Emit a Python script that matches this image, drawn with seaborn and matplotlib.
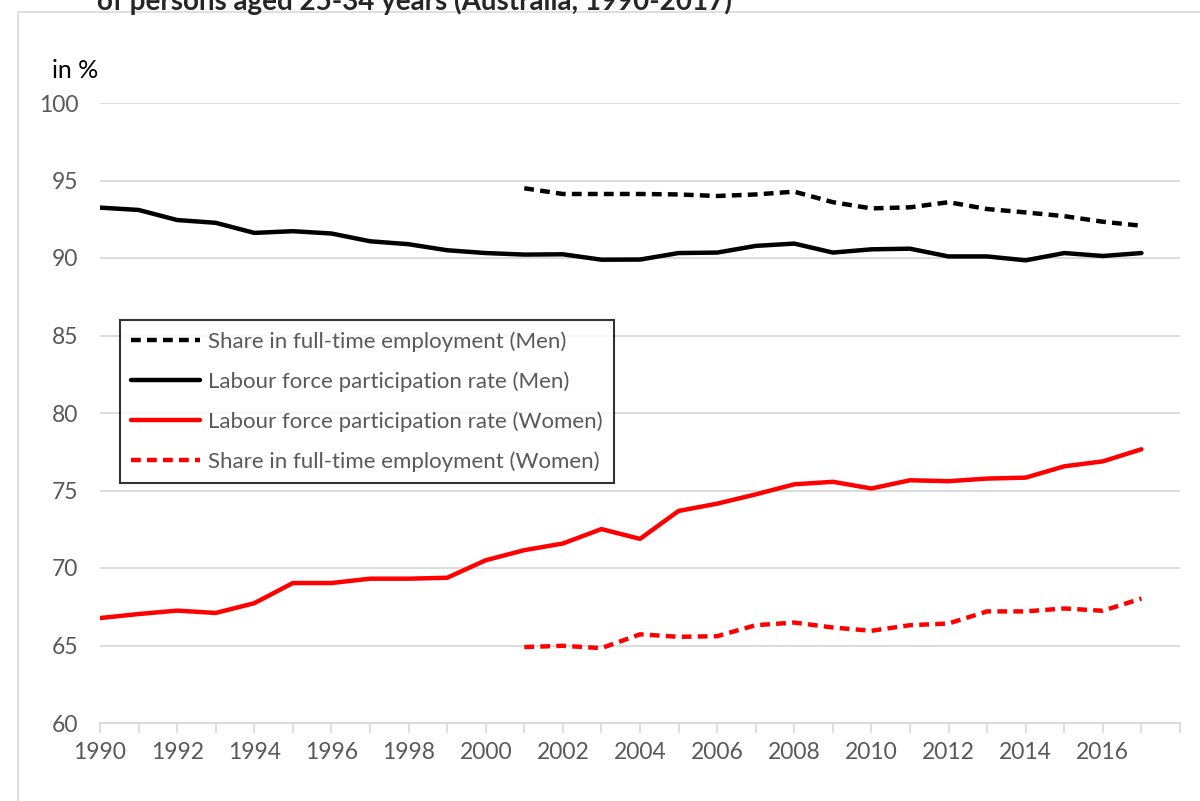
import numpy as np
import pandas as pd
import matplotlib
matplotlib.use("Agg")
import matplotlib.pyplot as plt
from matplotlib.patches import Rectangle
import seaborn as sns

years = list(range(1990, 2018))
ft_years = list(range(2001, 2018))

men_lfp = [93.25, 93.1, 92.45, 92.27, 91.62, 91.73, 91.58, 91.08, 90.89, 90.5,
           90.32, 90.22, 90.24, 89.89, 89.9, 90.32, 90.35, 90.78, 90.93, 90.35,
           90.56, 90.6, 90.1, 90.1, 89.85, 90.32, 90.13, 90.32]
women_lfp = [66.77, 67.03, 67.25, 67.1, 67.73, 69.03, 69.03, 69.31, 69.31, 69.37,
             70.5, 71.15, 71.58, 72.51, 71.88, 73.68, 74.15, 74.75, 75.4, 75.56,
             75.13, 75.66, 75.6, 75.77, 75.83, 76.56, 76.88, 77.66]
men_ft = [94.5, 94.13, 94.13, 94.13, 94.1, 94.0, 94.1, 94.28, 93.6, 93.2,
          93.27, 93.6, 93.16, 92.94, 92.7, 92.34, 92.08]
women_ft = [64.9, 64.98, 64.83, 65.72, 65.56, 65.6, 66.31, 66.48, 66.16, 65.95,
            66.31, 66.42, 67.2, 67.2, 67.39, 67.24, 68.03]

title = "of persons aged 25-34 years (Australia, 1990-2017)"
y_ticks = [60, 65, 70, 75, 80, 85, 90, 95, 100]

sns.set_style("white")
plt.rcParams['font.family'] = ['Lato', 'DejaVu Sans']

grey_txt = "#595959"
grid_col = "#d9d9d9"

fig = plt.figure(figsize=(12, 8.01), dpi=100)
ax = fig.add_axes([100 / 1200, 1 - 723 / 801, 1080 / 1200, 620 / 801])

# outer chart frame (cut off at the right and bottom)
fig.patches.append(Rectangle((18 / 1200, -0.1), 1.2, 1 - 12 / 801 + 0.1,
                             transform=fig.transFigure, fill=False,
                             edgecolor=grid_col, linewidth=1.2, zorder=0))

df_all = pd.DataFrame({"year": years, "men_lfp": men_lfp, "women_lfp": women_lfp})
df_ft = pd.DataFrame({"year": ft_years, "men_ft": men_ft, "women_ft": women_ft})

lw = 3.2
dash = (0, (2.2, 1.4))
sns.lineplot(data=df_ft, x="year", y="men_ft", ax=ax, color="black", lw=lw,
             label="Share in full-time employment (Men)", linestyle=dash)
sns.lineplot(data=df_all, x="year", y="men_lfp", ax=ax, color="black", lw=lw,
             label="Labour force participation rate (Men)")
sns.lineplot(data=df_all, x="year", y="women_lfp", ax=ax, color="red", lw=lw,
             label="Labour force participation rate (Women)")
sns.lineplot(data=df_ft, x="year", y="women_ft", ax=ax, color="red", lw=lw,
             label="Share in full-time employment (Women)", linestyle=dash)

ax.set_xlim(1990, 2018)
ax.set_ylim(60, 100)
ax.set_yticks(y_ticks)
ax.set_yticklabels([str(v) for v in y_ticks])
ax.set_xticks(range(1990, 2019))
ax.set_xticklabels([str(y) if (y % 2 == 0 and y <= 2016) else "" for y in range(1990, 2019)])
ax.tick_params(axis="x", direction="out", length=7, width=1.2, color=grid_col,
               labelsize=16.5, labelcolor=grey_txt, pad=7, bottom=True)
ax.tick_params(axis="y", length=0, labelsize=16.5, labelcolor=grey_txt, pad=15.5)
ax.set_xlabel("")
ax.set_ylabel("")
ax.grid(axis="y", color=grid_col, lw=1.3)
ax.set_axisbelow(True)
for s in ["top", "right", "left"]:
    ax.spines[s].set_visible(False)
ax.spines["bottom"].set_color(grid_col)
ax.spines["bottom"].set_linewidth(1.5)

leg = ax.legend(loc="upper left", bbox_to_anchor=(20 / 1080, (723 - 320) / 620),
                frameon=True, fancybox=False, fontsize=16, handlelength=3.1,
                borderaxespad=0, labelspacing=0.88, borderpad=0.5, handletextpad=0.35)
leg.get_frame().set_edgecolor("black")
leg.get_frame().set_linewidth(1.5)
for t in leg.get_texts():
    t.set_color(grey_txt)

fig.text(52 / 1200, 1 - 70 / 801, "in %", fontsize=18, color="black", va="center")
fig.text(414 / 1200, 1 - 1 / 801, title, fontsize=20, fontweight="bold",
         ha="center", va="center")

fig.savefig("out.png", dpi=100)
